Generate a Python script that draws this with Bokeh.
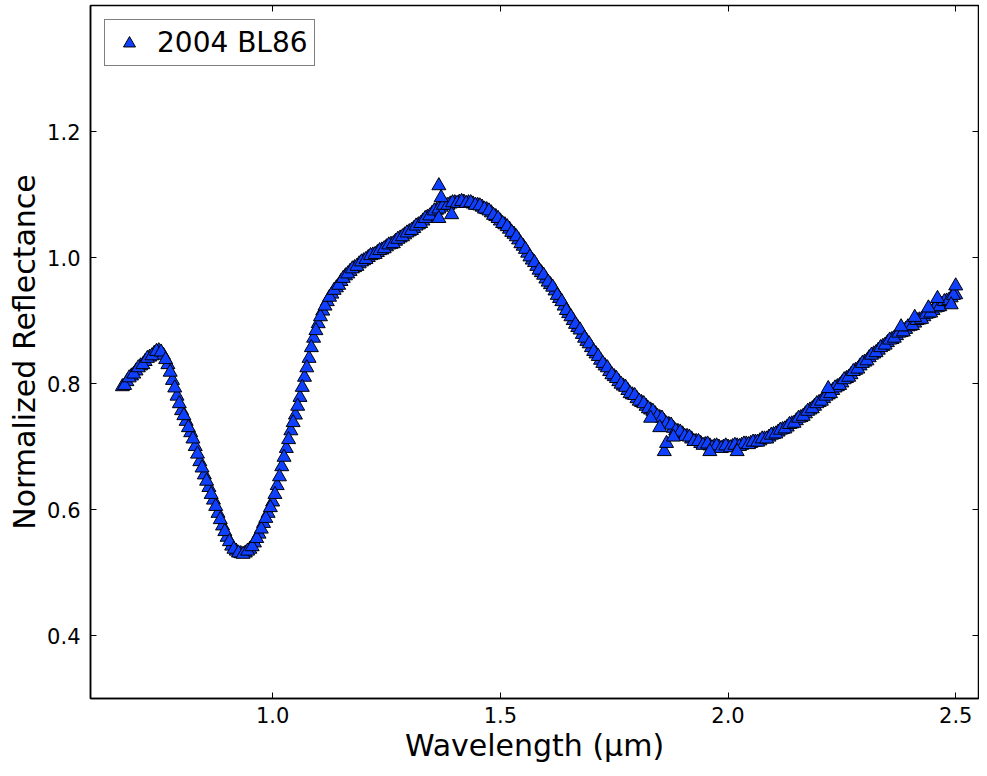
from bokeh.plotting import figure
from bokeh.models import Range1d, LinearAxis, Legend, LegendItem, PrintfTickFormatter
from bokeh.embed import file_html
from bokeh.resources import INLINE

# Spectrum of 2004 BL86
# samples on the 0.01 um grid
wavelength = [
    0.67, 0.68, 0.69, 0.70, 0.71, 0.72, 0.73, 0.74, 0.75, 0.76,
    0.77, 0.78, 0.79, 0.80, 0.81, 0.82, 0.83, 0.84, 0.85, 0.86,
    0.87, 0.88, 0.89, 0.90, 0.91, 0.92, 0.93, 0.94, 0.95, 0.96,
    0.97, 0.98, 0.99, 1.00, 1.01, 1.02, 1.03, 1.04, 1.05, 1.06,
    1.07, 1.08, 1.09, 1.10, 1.11, 1.12, 1.13, 1.14, 1.15, 1.16,
    1.17, 1.18, 1.19, 1.20, 1.21, 1.22, 1.23, 1.24, 1.25, 1.26,
    1.27, 1.28, 1.29, 1.30, 1.31, 1.32, 1.33, 1.34, 1.35, 1.36,
    1.37, 1.38, 1.39, 1.40, 1.41, 1.42, 1.43, 1.44, 1.45, 1.46,
    1.47, 1.48, 1.49, 1.50, 1.51, 1.52, 1.53, 1.54, 1.55, 1.56,
    1.57, 1.58, 1.59, 1.60, 1.61, 1.62, 1.63, 1.64, 1.65, 1.66,
    1.67, 1.68, 1.69, 1.70, 1.71, 1.72, 1.73, 1.74, 1.75, 1.76,
    1.77, 1.78, 1.79, 1.80, 1.81, 1.82, 1.83, 1.84, 1.85, 1.86,
    1.87, 1.88, 1.89, 1.90, 1.91, 1.92, 1.93, 1.94, 1.95, 1.96,
    1.97, 1.98, 1.99, 2.00, 2.01, 2.02, 2.03, 2.04, 2.05, 2.06,
    2.07, 2.08, 2.09, 2.10, 2.11, 2.12, 2.13, 2.14, 2.15, 2.16,
    2.17, 2.18, 2.19, 2.20, 2.21, 2.22, 2.23, 2.24, 2.25, 2.26,
    2.27, 2.28, 2.29, 2.30, 2.31, 2.32, 2.33, 2.34, 2.35, 2.36,
    2.37, 2.38, 2.39, 2.40, 2.41, 2.42, 2.43, 2.44, 2.45, 2.46,
    2.47, 2.48, 2.49, 2.50,
]
reflectance = [
    0.795, 0.803, 0.812, 0.820, 0.828, 0.835, 0.842, 0.848, 0.852, 0.845,
    0.830, 0.805, 0.780, 0.757, 0.740, 0.722, 0.700, 0.676, 0.655, 0.635,
    0.615, 0.594, 0.574, 0.556, 0.542, 0.534, 0.530, 0.531, 0.537, 0.547,
    0.561, 0.578, 0.594, 0.612, 0.638, 0.668, 0.697, 0.725, 0.750, 0.778,
    0.810, 0.840, 0.872, 0.895, 0.915, 0.930, 0.942, 0.952, 0.962, 0.971,
    0.978, 0.984, 0.990, 0.995, 1.000, 1.004, 1.008, 1.012, 1.017, 1.021,
    1.026, 1.031, 1.036, 1.041, 1.046, 1.052, 1.058, 1.064, 1.070, 1.075,
    1.080, 1.083, 1.085, 1.087, 1.088, 1.088, 1.087, 1.085, 1.083, 1.080,
    1.076, 1.071, 1.065, 1.058, 1.052, 1.045, 1.037, 1.028, 1.018, 1.007,
    0.996, 0.986, 0.976, 0.966, 0.957, 0.947, 0.935, 0.923, 0.911, 0.900,
    0.889, 0.878, 0.867, 0.857, 0.847, 0.837, 0.828, 0.819, 0.811, 0.803,
    0.796, 0.789, 0.782, 0.776, 0.770, 0.764, 0.758, 0.752, 0.746, 0.740,
    0.735, 0.729, 0.724, 0.720, 0.716, 0.712, 0.708, 0.705, 0.703, 0.701,
    0.700, 0.699, 0.699, 0.699, 0.700, 0.701, 0.702, 0.704, 0.705, 0.707,
    0.709, 0.712, 0.715, 0.719, 0.723, 0.727, 0.731, 0.736, 0.741, 0.746,
    0.752, 0.758, 0.764, 0.770, 0.776, 0.782, 0.789, 0.795, 0.801, 0.808,
    0.814, 0.821, 0.828, 0.834, 0.841, 0.847, 0.853, 0.859, 0.865, 0.870,
    0.876, 0.881, 0.886, 0.891, 0.896, 0.901, 0.906, 0.911, 0.916, 0.921,
    0.926, 0.931, 0.936, 0.941,
]

# samples lying between the grid points above
wavelength_mid = [
    0.675, 0.685, 0.695, 0.705, 0.715, 0.725, 0.735, 0.745, 0.755, 0.765,
    0.775, 0.785, 0.795, 0.805, 0.815, 0.825, 0.835, 0.845, 0.855, 0.865,
    0.875, 0.885, 0.895, 0.905, 0.915, 0.925, 0.935, 0.945, 0.955, 0.965,
    0.975, 0.985, 0.995, 1.005, 1.015, 1.025, 1.035, 1.045, 1.055, 1.065,
    1.075, 1.085, 1.095, 1.105, 1.115, 1.125, 1.135, 1.145, 1.155, 1.165,
    1.175, 1.185, 1.195, 1.205, 1.215, 1.225, 1.235, 1.245, 1.255, 1.265,
    1.275, 1.285, 1.295, 1.305, 1.315, 1.325, 1.335, 1.345, 1.355, 1.365,
    1.375, 1.385, 1.395, 1.405, 1.415, 1.425, 1.435, 1.445, 1.455, 1.465,
    1.475, 1.485, 1.495, 1.505, 1.515, 1.525, 1.535, 1.545, 1.555, 1.565,
    1.575, 1.585, 1.595, 1.605, 1.615, 1.625, 1.635, 1.645, 1.655, 1.665,
    1.675, 1.685, 1.695, 1.705, 1.715, 1.725, 1.735, 1.745, 1.755, 1.765,
    1.775, 1.785, 1.795, 1.805, 1.815, 1.825, 1.835, 1.845, 1.855, 1.865,
    1.875, 1.885, 1.895, 1.905, 1.915, 1.925, 1.935, 1.945, 1.955, 1.965,
    1.975, 1.985, 1.995, 2.005, 2.015, 2.025, 2.035, 2.045, 2.055, 2.065,
    2.075, 2.085, 2.095, 2.105, 2.115, 2.125, 2.135, 2.145, 2.155, 2.165,
    2.175, 2.185, 2.195, 2.205, 2.215, 2.225, 2.235, 2.245, 2.255, 2.265,
    2.275, 2.285, 2.295, 2.305, 2.315, 2.325, 2.335, 2.345, 2.355, 2.365,
    2.375, 2.385, 2.395, 2.405, 2.415, 2.425, 2.435, 2.445, 2.455, 2.465,
    2.475, 2.485, 2.495,
]
reflectance_mid = [
    0.797, 0.809, 0.815, 0.825, 0.830, 0.840, 0.844, 0.851, 0.850, 0.838,
    0.818, 0.793, 0.768, 0.749, 0.730, 0.712, 0.688, 0.666, 0.645, 0.624,
    0.605, 0.584, 0.565, 0.549, 0.537, 0.531, 0.529, 0.534, 0.541, 0.554,
    0.569, 0.586, 0.603, 0.624, 0.652, 0.683, 0.711, 0.738, 0.764, 0.794,
    0.825, 0.857, 0.884, 0.906, 0.923, 0.937, 0.948, 0.956, 0.967, 0.974,
    0.982, 0.986, 0.993, 0.997, 1.003, 1.005, 1.011, 1.014, 1.020, 1.022,
    1.029, 1.033, 1.039, 1.043, 1.050, 1.054, 1.062, 1.066, 1.074, 1.077,
    1.083, 1.083, 1.087, 1.086, 1.089, 1.086, 1.087, 1.083, 1.082, 1.077,
    1.074, 1.067, 1.062, 1.054, 1.049, 1.040, 1.033, 1.022, 1.013, 1.001,
    0.992, 0.980, 0.972, 0.961, 0.953, 0.940, 0.930, 0.916, 0.906, 0.894,
    0.885, 0.872, 0.863, 0.851, 0.843, 0.832, 0.825, 0.814, 0.808, 0.799,
    0.794, 0.784, 0.781, 0.772, 0.768, 0.760, 0.756, 0.748, 0.745, 0.736,
    0.734, 0.725, 0.723, 0.716, 0.715, 0.708, 0.708, 0.702, 0.704, 0.698,
    0.701, 0.697, 0.701, 0.698, 0.702, 0.700, 0.704, 0.703, 0.707, 0.707,
    0.712, 0.712, 0.718, 0.720, 0.726, 0.728, 0.735, 0.737, 0.745, 0.748,
    0.756, 0.760, 0.768, 0.772, 0.780, 0.784, 0.793, 0.797, 0.806, 0.810,
    0.819, 0.823, 0.832, 0.836, 0.845, 0.849, 0.857, 0.861, 0.869, 0.872,
    0.880, 0.882, 0.890, 0.892, 0.900, 0.902, 0.910, 0.912, 0.920, 0.922,
    0.930, 0.932, 0.940,
]

# Scattered / noisy points off the main band
scatter_wl = [1.365, 1.365, 1.393, 1.37, 1.83, 1.85, 1.86, 1.865, 1.88,
              1.96, 2.02, 2.22, 2.38, 2.41, 2.44, 2.46, 2.49, 2.50]
scatter_refl = [1.114, 1.062, 1.068, 1.095, 0.745, 0.730, 0.692, 0.705, 0.715,
                0.692, 0.692, 0.792, 0.890, 0.905, 0.920, 0.935, 0.925, 0.955]

x_ticks = [1.0, 1.5, 2.0, 2.5]
y_ticks = [0.4, 0.6, 0.8, 1.0, 1.2]

FONT = "DejaVu Sans"
FILL = "#1040ff"
MSIZE = 14

p = figure(width=979, height=768,
           x_range=Range1d(0.6, 2.55), y_range=Range1d(0.3, 1.4),
           output_backend="svg", toolbar_location=None,
           min_border_left=90, min_border_right=1,
           min_border_top=5, min_border_bottom=70)

p.grid.visible = False
p.outline_line_color = "black"
p.outline_line_width = 1.5
p.background_fill_color = "white"
p.border_fill_color = "white"

for ax in (p.xaxis[0], p.yaxis[0]):
    ax.major_tick_in = 6
    ax.major_tick_out = 0
    ax.minor_tick_line_color = None
    ax.axis_line_width = 1.5
    ax.major_tick_line_color = "black"
    ax.major_label_text_font = FONT
    ax.major_label_text_font_size = "21px"
    ax.major_label_text_color = "black"
    ax.axis_label_text_font = FONT
    ax.axis_label_text_font_size = "30px"
    ax.axis_label_text_font_style = "normal"
    ax.axis_label_text_color = "black"
    ax.formatter = PrintfTickFormatter(format="%.1f")

p.xaxis.ticker = x_ticks
p.yaxis.ticker = y_ticks
p.xaxis.axis_label = "Wavelength (μm)"
p.yaxis.axis_label = "Normalized Reflectance"
p.xaxis.major_label_standoff = 8
p.yaxis.major_label_standoff = 10
p.xaxis.axis_label_standoff = 2
p.yaxis.axis_label_standoff = 2

# tick marks on the top and right edges of the frame (no labels)
top = LinearAxis(ticker=x_ticks, major_label_text_font_size="0px",
                 major_label_text_color=None,
                 major_tick_in=6, major_tick_out=0, minor_tick_line_color=None,
                 axis_line_color=None, major_label_standoff=0)
right = LinearAxis(ticker=y_ticks, major_label_text_font_size="0px",
                   major_label_text_color=None,
                   major_tick_in=6, major_tick_out=0, minor_tick_line_color=None,
                   axis_line_color=None, major_label_standoff=0)
p.add_layout(top, "above")
p.add_layout(right, "right")

style = dict(marker="triangle", size=MSIZE, fill_color=FILL,
             line_color="black", line_width=1.0)
r = p.scatter(wavelength, reflectance, **style)
p.scatter(wavelength_mid, reflectance_mid, **style)
p.scatter(scatter_wl, scatter_refl, **style)

legend = Legend(items=[LegendItem(label="2004 BL86", renderers=[r])],
                location="top_left", margin=14, padding=6,
                glyph_width=36, glyph_height=30, label_standoff=10,
                label_text_font=FONT, label_text_font_size="28px",
                label_text_color="black",
                border_line_color="black", border_line_width=1.2,
                background_fill_alpha=1.0)
p.add_layout(legend)

open("out.html", "w").write(file_html(p, INLINE))
